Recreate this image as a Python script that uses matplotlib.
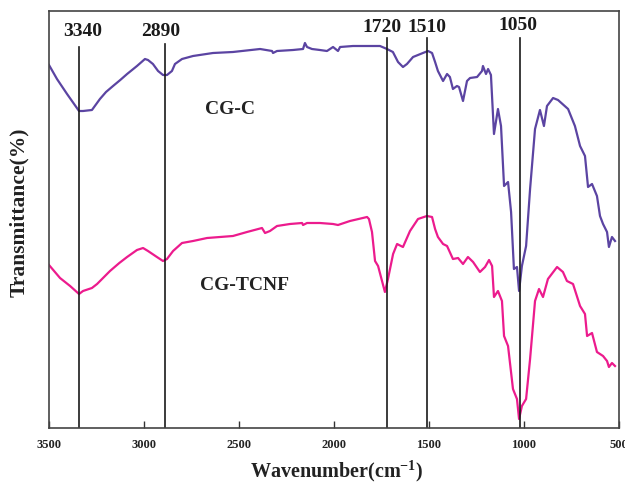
import matplotlib
matplotlib.use("Agg")
import matplotlib.pyplot as plt

# ---- data (transmittance in arbitrary units) ----
cgc_wn = [3500, 3458, 3405, 3342, 3321, 3274, 3232, 3200, 3163, 3125, 3089, 3037, 2995, 2979, 2953, 2926,
          2900, 2879, 2853, 2837, 2800, 2742, 2637, 2532, 2389, 2326, 2321, 2300, 2216, 2163,
          2153, 2142, 2116, 2074, 2037, 2005, 1979, 1968, 1900, 1758, 1721, 1690, 1663, 1637,
          1616, 1584, 1532, 1505, 1484, 1468, 1453, 1426, 1405, 1390, 1374, 1353, 1342, 1321,
          1300, 1284, 1247, 1221, 1216, 1200, 1189, 1174, 1158, 1137, 1121, 1105, 1084, 1068,
          1053, 1037, 1026, 1011, 989, 968, 942, 916, 895, 879, 847, 821, 768, 732, 705, 679,
          663, 642, 616, 600, 584, 563, 553, 537, 521]
cgc_t = [363, 349, 334, 317, 317, 318, 329, 336, 342, 348, 354, 362, 369, 368, 364, 357,
         353, 353, 357, 364, 369, 372, 375, 376, 379, 377, 375, 377, 378, 379,
         385, 381, 379, 378, 377, 381, 377, 381, 382, 382, 379, 376, 366, 361,
         364, 371, 375, 377, 375, 366, 357, 347, 354, 351, 339, 342, 341, 327,
         347, 350, 351, 357, 362, 354, 359, 353, 294, 319, 302, 242, 246, 216,
         159, 161, 137, 162, 182, 239, 299, 318, 302, 322, 330, 328, 319, 302, 282, 272,
         241, 244, 232, 212, 204, 196, 181, 191, 187]

tcnf_wn = [3500, 3442, 3389, 3342, 3321, 3274, 3247, 3179, 3130, 3089, 3037, 3005, 2979, 2932, 2900,
           2879, 2847, 2800, 2742, 2668, 2532, 2458, 2379, 2363, 2337, 2300, 2232, 2168, 2163,
           2142, 2074, 2005, 1979, 1916, 1826, 1816, 1800, 1784, 1768, 1732, 1716, 1689, 1668,
           1637, 1600, 1558, 1511, 1484, 1468, 1453, 1426, 1405, 1374, 1347, 1321, 1295, 1268,
           1232, 1205, 1184, 1168, 1158, 1137, 1116, 1105, 1084, 1058, 1037, 1026, 1011, 989,
           968, 942, 921, 900, 874, 826, 795, 774, 742, 705, 679, 668, 642, 616, 584, 563,
           553, 537, 521]
tcnf_t = [163, 150, 142, 134, 137, 140, 144, 157, 165, 171, 178, 180, 177, 171, 167,
          169, 177, 185, 187, 190, 192, 196, 200, 195, 197, 202, 204, 205, 203,
          205, 205, 204, 203, 207, 211, 209, 196, 167, 162, 136, 149, 174, 184,
          181, 197, 209, 212, 211, 199, 191, 184, 182, 169, 170, 164, 171, 166,
          156, 161, 168, 162, 131, 137, 127, 92, 82, 39, 29, 9, 22, 29,
          69, 127, 139, 131, 149, 161, 156, 147, 144, 122, 114, 92, 95, 76, 72, 67,
          61, 65, 62]

series_labels = ["CG-C", "CG-TCNF"]
peak_labels = ["3340", "2890", "1720", "1510", "1050"]
peak_pos = [3340, 2890, 1720, 1510, 1022]
xticks = [3500, 3000, 2500, 2000, 1500, 1000, 500]

plt.rcParams["font.family"] = ["Liberation Serif", "DejaVu Serif"]
plt.rcParams["font.weight"] = "bold"
plt.rcParams["mathtext.fontset"] = "custom"
plt.rcParams["mathtext.rm"] = "Liberation Serif:bold"
plt.rcParams["mathtext.it"] = "Liberation Serif:bold"
plt.rcParams["mathtext.bf"] = "Liberation Serif:bold"
plt.rcParams["mathtext.default"] = "rm"

fig = plt.figure(figsize=(6.25, 4.85), dpi=100)
ax = fig.add_axes([49/625, 56/485, 570/625, 417/485])

ax.plot(cgc_wn, cgc_t, color="#5B44A2", lw=1.6, solid_joinstyle="round")
ax.plot(tcnf_wn, tcnf_t, color="#EC1B8D", lw=1.6, solid_joinstyle="round")

ax.set_xlim(3500, 500)
ax.set_ylim(0, 417)

line_tops = [381, 384, 390, 390, 390]
label_y = [397, 398, 402, 402, 403]
label_x = [3321, 2911, 1748, 1510, 1032]
for pos, lab, top, ly, lx in zip(peak_pos, peak_labels, line_tops, label_y, label_x):
    ax.plot([pos, pos], [0, top], color="#1a1a1a", lw=1.2)
    ax.text(lx, ly, lab, ha="center", va="center", fontsize=14,
            fontweight="bold", color="#1a1a1a")

ax.text(2679, 319, series_labels[0], ha="left", va="center", fontsize=14,
        fontweight="bold", color="#222222")
ax.text(2705, 144, series_labels[1], ha="left", va="center", fontsize=14,
        fontweight="bold", color="#222222")

ax.set_xticks(xticks)
ax.set_xticklabels([str(t) for t in xticks], fontsize=9, fontweight="bold")
ax.tick_params(axis="x", direction="in", length=5, width=1, pad=7, colors="#333333",
               labelcolor="#222222")
ax.set_yticks([])
for s in ax.spines.values():
    s.set_color("#444444")
    s.set_linewidth(1.2)

fig.text(337/625, 1 - 471/485, "Wavenumber(cm$^{-1}$)", ha="center", va="center",
         fontsize=14.5, fontweight="bold", color="#222222")
fig.text(19/625, 1 - 212/485, "Transmittance(%)", ha="center", va="center",
         rotation=90, fontsize=15.5, fontweight="bold", color="#222222")

fig.savefig("out.png", dpi=100)
